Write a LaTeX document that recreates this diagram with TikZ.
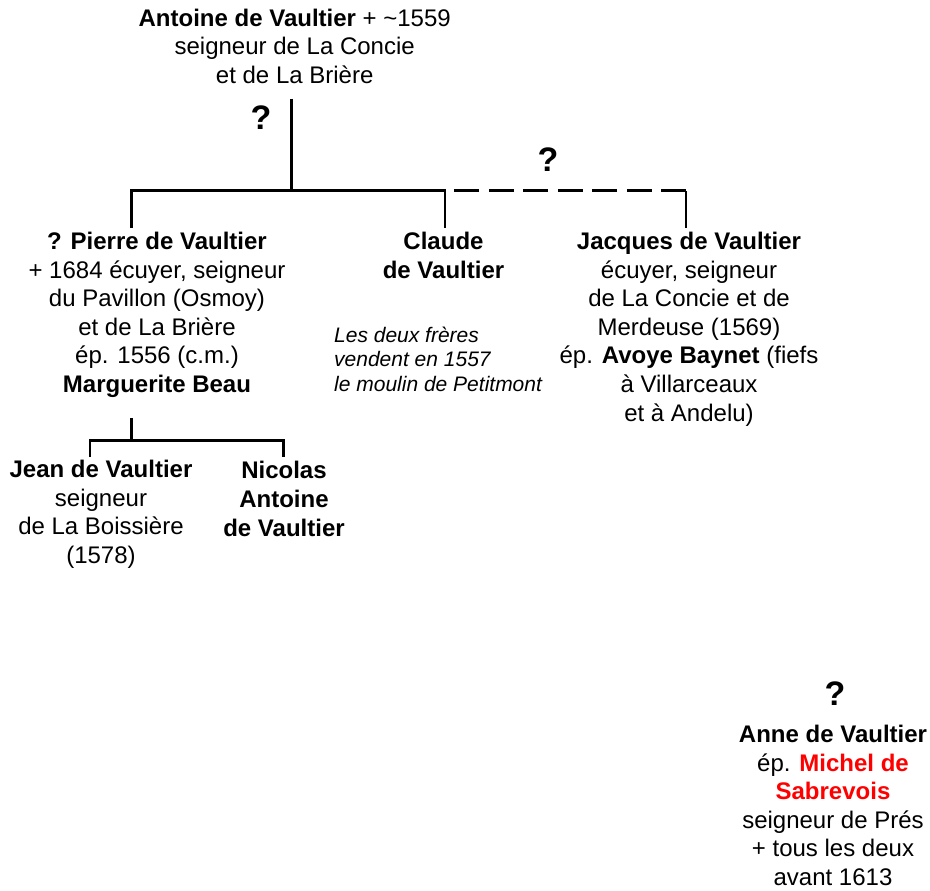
\documentclass[tikz,border=0pt]{standalone}
\usepackage{fontspec}
\setmainfont{Liberation Sans}
\begin{document}
\begin{tikzpicture}[x=1pt,y=-1pt,
  txt/.style={align=center, inner sep=0pt, anchor=base, font=\fontsize{24}{28.6}\selectfont},
  note/.style={align=left, inner sep=0pt, anchor=base west, font=\fontsize{21}{24.5}\selectfont\itshape},
  qmark/.style={inner sep=0pt, font=\fontsize{34}{40}\selectfont\bfseries},
  link/.style={line width=2.6pt},
  doubt/.style={link, dash pattern=on 25pt off 9.5pt}]
\useasboundingbox (0,0) rectangle (930,891);

% anchors are the baselines of the last lines
\node[txt] (antoine) at (294.7,83.2) {\textbf{Antoine de Vaultier} + \textasciitilde1559\\seigneur de La Concie\\et de La Brière};
\node[txt] (pierre) at (157,392.5) {\textbf{? Pierre de Vaultier}\\+ 1684 écuyer, seigneur\\du Pavillon (Osmoy)\\et de La Brière\\ép. 1556 (c.m.)\\\textbf{Marguerite Beau}};
\node[txt] (claude) at (443.5,278.1) {\textbf{Claude}\\\textbf{de Vaultier}};
\node[txt] (jacques) at (689,421.1) {\textbf{Jacques de Vaultier}\\écuyer, seigneur\\de La Concie et de\\Merdeuse (1569)\\ép. \textbf{Avoye Baynet} (fiefs\\à Villarceaux\\et à Andelu)};
\node[note] (vente) at (334,391) {Les deux frères\\vendent en 1557\\le moulin de Petitmont};
\node[txt] (jean) at (101,563.3) {\textbf{Jean de Vaultier}\\seigneur\\de La Boissière\\(1578)};
\node[txt] (nicolas) at (284,536) {\textbf{Nicolas}\\\textbf{Antoine}\\\textbf{de Vaultier}};
\node[txt] (anne) at (833,885.5) {\textbf{Anne de Vaultier}\\ép. \textcolor{red}{\textbf{Michel de}}\\\textcolor{red}{\textbf{Sabrevois}}\\seigneur de Prés\\+ tous les deux\\avant 1613};

\node[qmark] (q1) at (261,118) {?};
\node[qmark] (q2) at (548,160) {?};
\node[qmark] (q3) at (835,694) {?};

\coordinate (antfoot) at (291.7,99);
\coordinate (bar1) at (291.7,190.7);
\coordinate (pierretop) at (131.7,228);
\coordinate (claudetop) at (445,228);
\coordinate (jacquestop) at (686,228);
\coordinate (jbar) at (686,190.7);
\coordinate (cbar) at (445,190.7);

\draw[link] (antfoot) -- (bar1);
\draw[link] (pierretop) |- (bar1) -| (claudetop);
\draw[link] (jacquestop) -- (jbar);
\draw[doubt] (jbar) -- (cbar);

\coordinate (pierrefoot) at (131.7,418);
\coordinate (bar2) at (131.7,440.7);
\coordinate (jeantop) at (90,456.7);
\coordinate (nicolastop) at (283.3,456.7);
\draw[link] (pierrefoot) -- (bar2);
\draw[link] (jeantop) |- (bar2) -| (nicolastop);
\end{tikzpicture}
\end{document}
